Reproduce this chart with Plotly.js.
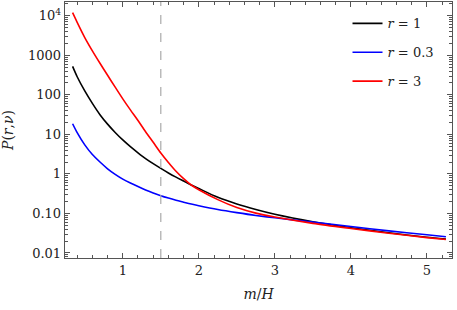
<!DOCTYPE html>
<html>
<head>
<meta charset="utf-8">
<script src="https://cdn.plot.ly/plotly-3.0.1.min.js"></script>
<style>html,body{margin:0;padding:0;background:#fff;}#chart{width:457px;height:310px;}</style>
</head>
<body>
<div id="chart"></div>
<script>
// m/H values
const mOverH = [0.34,0.4,0.5,0.6,0.7,0.8,0.9,1.0,1.1,1.2,1.3,1.4,1.5,1.6,1.7,1.8,1.9,2.0,2.25,2.5,2.75,3.0,3.5,4.0,4.5,5.0,5.25];
// P(r, nu) for r = 1
const pR1 = [525,288,126,61.0,31.6,18.2,11.2,7.24,4.90,3.43,2.45,1.82,1.38,1.06,0.832,0.661,0.525,0.427,0.257,0.174,0.126,0.0955,0.0617,0.0437,0.0324,0.0251,0.0226];
// r = 0.3
const pR03 = [18.6,11.1,5.43,3.09,2.00,1.35,0.977,0.741,0.589,0.479,0.394,0.331,0.282,0.245,0.216,0.193,0.173,0.157,0.126,0.105,0.0891,0.0776,0.0603,0.0468,0.0363,0.0288,0.0257];
// r = 3
const pR3 = [12000,6840,2820,1300,631,313,157,79.4,41.7,22.4,11.7,6.31,3.39,1.95,1.17,0.759,0.525,0.398,0.224,0.141,0.102,0.0813,0.0562,0.0417,0.0316,0.0245,0.0219];
const seriesNames = ['<i>r</i> = 1','<i>r</i> = 0.3','<i>r</i> = 3'];
const yTickVals = [0.01,0.1,1,10,100,1000,10000];
const yTickText = ['0.01','0.10','1','10','100','1000','10<sup>4</sup>'];
const xTickVals = [1,2,3,4,5];
const dashedAt = 1.5;

const font = 'DejaVu Serif, Liberation Serif, serif';
const mk = (y, name, color, g) => ({
  x: mOverH, y: y, name: name, type: 'scatter', mode: 'lines',
  line: {color: color, width: 1.6, shape: 'spline', smoothing: 0.8}, legendgroup: g
});
const data = [
  mk(pR1, seriesNames[0], '#000000', 'a'),
  mk(pR03, seriesNames[1], '#0000ff', 'b'),
  mk(pR3, seriesNames[2], '#ff0000', 'c')
];
const axisCommon = {
  showline: true, linecolor: '#555', linewidth: 1.3, mirror: 'allticks',
  ticks: 'inside', ticklen: 5, tickcolor: '#555', tickwidth: 1,
  showgrid: false, zeroline: false,
  tickfont: {family: font, size: 13, color: '#222'}
};
const layout = {
  width: 457, height: 310,
  margin: {l: 65, r: 5, t: 2, b: 52},
  paper_bgcolor: '#fff', plot_bgcolor: '#fff',
  showlegend: true,
  legend: {x: 0.73, y: 0.975, xanchor: 'left', yanchor: 'top',
           font: {family: font, size: 13, color: '#222'},
           bgcolor: 'rgba(0,0,0,0)', tracegroupgap: 9},
  xaxis: Object.assign({}, axisCommon, {
    range: [0.24, 5.33], tickvals: xTickVals,
    minor: {dtick: 0.2, tick0: 0, ticks: 'inside', ticklen: 3, tickcolor: '#555'},
    title: {text: '<i>m</i>/<i>H</i>', font: {family: font, size: 14, color: '#222'}, standoff: 12}
  }),
  yaxis: Object.assign({}, axisCommon, {
    type: 'log', range: [-2.127, 4.35],
    tickvals: yTickVals, ticktext: yTickText,
    minor: {ticks: 'inside', ticklen: 3, tickcolor: '#555', dtick: 'D1'},
    title: {text: '<i>P</i>(<i>r</i>,<i>ν</i>)', font: {family: font, size: 14, color: '#222'}, standoff: 11}
  }),
  shapes: [{type: 'line', xref: 'x', yref: 'paper', x0: dashedAt, x1: dashedAt, y0: 0, y1: 1,
            line: {color: '#aaa', width: 1.2, dash: 'dash'}}]
};
Plotly.newPlot('chart', data, layout, {displayModeBar: false, staticPlot: true});
</script>
</body>
</html>
